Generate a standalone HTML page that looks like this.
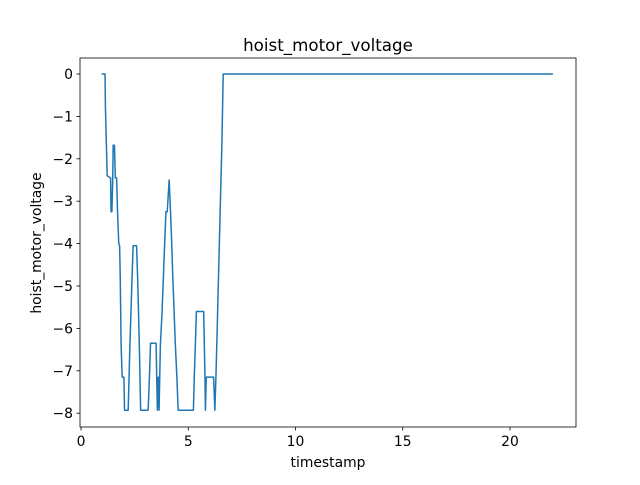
<!DOCTYPE html>
<html><head><meta charset="utf-8"><style>
body{margin:0;background:#fff;}
svg text{font-family:"DejaVu Sans","Liberation Sans",sans-serif;fill:#000;}
</style></head><body>
<svg id="chart" width="640" height="480" viewBox="0 0 640 480">
<rect x="0" y="0" width="640" height="480" fill="#fff"/>
<text x="328" y="51" font-size="16.7" text-anchor="middle">hoist_motor_voltage</text>
<g id="xticks"></g>
<g id="yticks"></g>
<path id="series" fill="none" stroke="#1f77b4" stroke-width="1.5" stroke-linejoin="round"/>
<rect x="80" y="58" width="496" height="369" fill="none" stroke="#000" stroke-width="0.8"/>
<text x="328" y="467" font-size="13.9" text-anchor="middle">timestamp</text>
<text x="41" y="243" font-size="13.9" text-anchor="middle" transform="rotate(-90 41 243)">hoist_motor_voltage</text>
</svg>
<script>
const xTickValues=[0,5,10,15,20];
const yTickValues=[0,-1,-2,-3,-4,-5,-6,-7,-8];
const timestamps=[
0.96,1.12,1.14,1.18,1.22,1.38,1.40,1.44,1.48,1.50,
1.56,1.60,1.66,1.70,1.76,1.80,1.83,1.85,1.87,1.92,
2.00,2.03,2.20,2.24,2.28,2.33,2.38,2.43,2.59,2.64,
2.68,2.72,2.75,2.78,3.13,3.19,3.24,3.50,3.56,3.60,
3.64,3.70,3.78,3.84,3.90,3.96,4.02,4.11,4.17,4.23,
4.28,4.34,4.40,4.47,4.53,5.24,5.28,5.33,5.38,5.72,
5.75,5.78,5.80,5.84,6.18,6.24,6.29,6.33,6.37,6.41,
6.45,6.49,6.53,6.57,6.63,22.0];
const voltages=[
0,0,-0.8,-1.6,-2.4,-2.45,-3.25,-3.25,-2.45,-1.68,
-1.68,-2.45,-2.45,-3.2,-4.0,-4.05,-4.8,-5.6,-6.4,-7.15,
-7.15,-7.93,-7.93,-7.15,-6.4,-5.6,-4.8,-4.05,-4.05,-4.8,
-5.6,-6.4,-7.15,-7.93,-7.93,-7.15,-6.35,-6.35,-7.93,-7.15,
-7.93,-6.4,-5.6,-4.8,-4.0,-3.25,-3.25,-2.5,-3.2,-4.0,
-4.8,-5.6,-6.4,-7.15,-7.93,-7.93,-7.15,-6.4,-5.6,-5.6,
-6.4,-7.15,-7.93,-7.15,-7.15,-7.93,-7.15,-6.4,-5.6,-4.8,
-4.0,-3.2,-2.4,-1.6,0,0];
const NS="http://www.w3.org/2000/svg";
function xs(t){return 81+21.45*t;}
function ys(v){return 74-42.4*v;}
const xg=document.getElementById('xticks'), yg=document.getElementById('yticks');
xTickValues.forEach(v=>{
  const l=document.createElementNS(NS,'line');
  l.setAttribute('x1',xs(v));l.setAttribute('x2',xs(v));l.setAttribute('y1',427);l.setAttribute('y2',430.5);
  l.setAttribute('stroke','#000');l.setAttribute('stroke-width','0.8');
  
  
  xg.appendChild(l);
  const t=document.createElementNS(NS,'text');
  t.setAttribute('x',xs(v));t.setAttribute('y',446);t.setAttribute('font-size','13.9');t.setAttribute('text-anchor','middle');
  t.textContent=String(v);
  
  
  xg.appendChild(t);
});
yTickValues.forEach(v=>{
  const l=document.createElementNS(NS,'line');
  l.setAttribute('x1',76.5);l.setAttribute('x2',80);l.setAttribute('y1',ys(v));l.setAttribute('y2',ys(v));
  l.setAttribute('stroke','#000');l.setAttribute('stroke-width','0.8');
  
  
  yg.appendChild(l);
  const t=document.createElementNS(NS,'text');
  t.setAttribute('x',73);t.setAttribute('y',ys(v)+5);t.setAttribute('font-size','13.9');t.setAttribute('text-anchor','end');
  t.textContent=v<0?'\u2212'+Math.abs(v):String(v);
  
  
  yg.appendChild(t);
});
let d='';
const n=Math.min(timestamps.length,voltages.length);
for(let i=0;i<n;i++){d+=(i?'L':'M')+xs(timestamps[i]).toFixed(2)+' '+ys(voltages[i]).toFixed(2);}
document.getElementById('series').setAttribute('d',d);
</script>
</body></html>
